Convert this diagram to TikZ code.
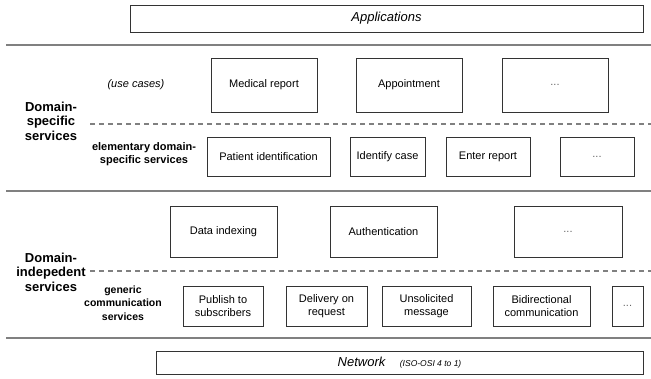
\documentclass[tikz,border=0pt]{standalone}
\usepackage{fontspec}
\setmainfont{Liberation Sans}
\begin{document}
\begin{tikzpicture}[x=1pt, y=-1pt,
  every node/.style = {inner sep=0pt, font=\fontsize{11}{13}\selectfont},
  box/.style = {shape=rectangle, draw=black!80, line width=0.8pt, align=center},
  more/.style = {box, text=black!60},
  sepline/.style = {draw=black!50, line width=1.2pt},
  subline/.style = {sepline, dash pattern=on 5pt off 4pt},
  layer/.style = {align=center, font=\bfseries\fontsize{13}{14.5}\selectfont},
  sublayer/.style = {align=center, font=\bfseries\fontsize{11}{13.5}\selectfont}]
  \useasboundingbox (0,0) rectangle (651,379);
  \node[box, minimum width=513, minimum height=27] (apps) at (386.5,18.5) {\textit{\fontsize{13}{15}\selectfont Applications}};
  \draw[sepline] (6,45) -- (651,45);
  \node (usecases) at (136,85) {\textit{(use cases)}};
  \node[box, minimum width=106, minimum height=54] (medrep) at (264,85) {Medical report};
  \node[box, minimum width=106, minimum height=54] (appoint) at (409,85) {Appointment};
  \node[more, minimum width=106, minimum height=54] (ucmore) at (555,85) {...};
  \node[layer] (dsserv) at (51,121) {Domain-\\specific\\services};
  \draw[subline] (90,124) -- (651,124);
  \node[sublayer] (elem) at (144,154) {elementary domain-\\specific services};
  \node[box, minimum width=123, minimum height=39] (patid) at (268.5,156.5) {Patient identification};
  \node[box, minimum width=75, minimum height=39] (idcase) at (387.5,156.5) {Identify case};
  \node[box, minimum width=84, minimum height=39] (entrep) at (488,156.5) {Enter report};
  \node[more, minimum width=74, minimum height=39] (elmore) at (597,156.5) {...};
  \draw[sepline] (6,191) -- (651,191);
  \node[box, minimum width=107, minimum height=51] (dataidx) at (223.5,231.5) {Data indexing};
  \node[box, minimum width=107, minimum height=51] (auth) at (383.5,231.5) {Authentication};
  \node[more, minimum width=108, minimum height=51] (dimore) at (568,231.5) {...};
  \node[layer] (diserv) at (51,272) {Domain-\\indepedent\\services};
  \draw[subline] (90,271) -- (651,271);
  \node[sublayer, font=\bfseries\fontsize{10.5}{13.5}\selectfont] (generic) at (123,303) {generic\\communication\\services};
  \node[box, minimum width=80, minimum height=40] (publish) at (223,306) {Publish to\\subscribers};
  \node[box, minimum width=81, minimum height=40] (delivery) at (326.5,306) {Delivery on\\request};
  \node[box, minimum width=89, minimum height=40] (unsol) at (426.5,306) {Unsolicited\\message};
  \node[box, minimum width=97, minimum height=40] (bidir) at (541.5,306) {Bidirectional\\communication};
  \node[more, minimum width=31, minimum height=40] (gcmore) at (627.5,306) {...};
  \draw[sepline] (6,338) -- (651,338);
  \node[box, minimum width=487, minimum height=23] (net) at (399.5,362.5) {\textit{\fontsize{13}{15}\selectfont Network}\hspace{14pt}\textit{\fontsize{8.5}{10}\selectfont (ISO-OSI 4 to 1)}};
\end{tikzpicture}
\end{document}
